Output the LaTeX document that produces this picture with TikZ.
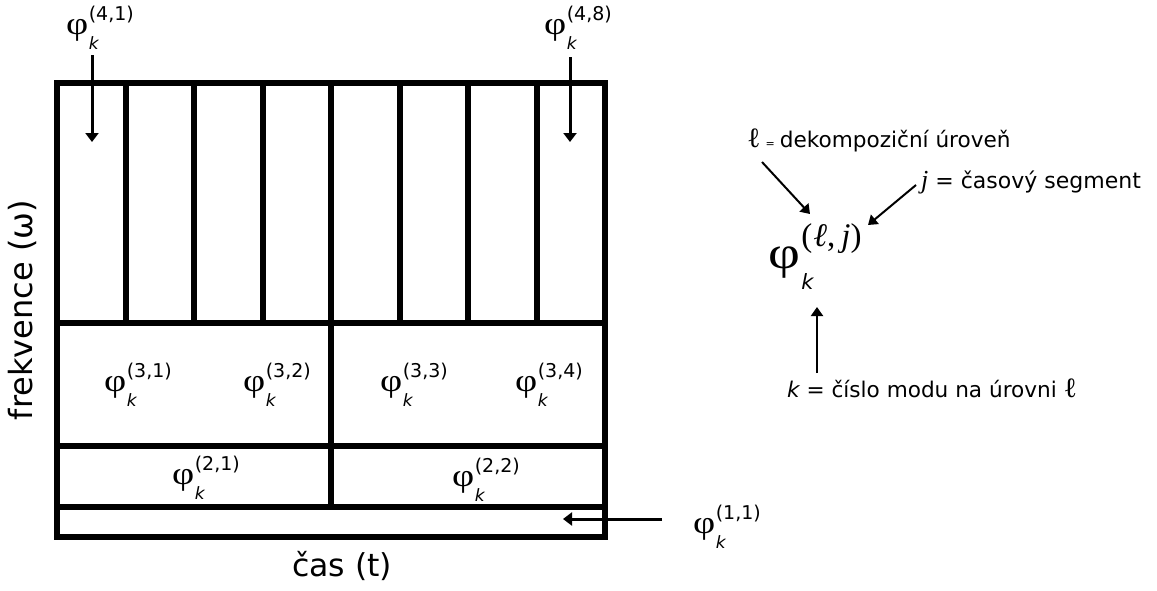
\documentclass[tikz,border=0pt]{standalone}
\usepackage{fontspec}
\usepackage{graphicx}
\setmainfont{DejaVu Sans}
\newfontfamily\phifont{Liberation Serif}
\usetikzlibrary{arrows.meta}
\newcommand{\fs}[1]{\fontsize{#1}{#1}\selectfont}
\newcommand{\phk}[1]{\scalebox{1.2}[1]{\phifont\fs{32}φ}\kern0.5pt\rlap{\raisebox{-15pt}{\fs{17}\itshape k}}\raisebox{14pt}{\fs{19}(#1)}}
\begin{document}
\begin{tikzpicture}[x=1pt,y=-1pt,
  grid/.style={line width=6pt},
  arr/.style={line width=3pt,-{Triangle[length=9pt,width=13pt]}},
  larr/.style={line width=2pt,-{Triangle[length=9pt,width=12pt]}},
  lab/.style={inner sep=0pt,anchor=center}]
\useasboundingbox (0,0) rectangle (1157,590);
% grid
\draw[grid] (57,83) rectangle (605,537);
\draw[grid] (57,323) -- (605,323);
\draw[grid] (57,446) -- (605,446);
\draw[grid] (57,507) -- (605,507);
\foreach \i in {1,...,7} \draw[grid] ({57+68.5*\i},83) -- ({57+68.5*\i},323);
\draw[grid] (331,323) -- (331,507);
% labels in grid
\node[lab] (p41) at (100,28) {\phk{4,1}};
\node[lab] (p48) at (578,28) {\phk{4,8}};
\node[lab] (p31) at (138,385) {\phk{3,1}};
\node[lab] (p32) at (277,385) {\phk{3,2}};
\node[lab] (p33) at (414,385) {\phk{3,3}};
\node[lab] (p34) at (549,385) {\phk{3,4}};
\node[lab] (p21) at (206,478) {\phk{2,1}};
\node[lab] (p22) at (486,480) {\phk{2,2}};
\node[lab] (p11) at (727,527) {\phk{1,1}};
% arrows into grid
\coordinate (s41) at (92,55);  \coordinate (e41) at (92,142);
\coordinate (s48) at (570,57); \coordinate (e48) at (570,142);
\coordinate (s11) at (662,519); \coordinate (e11) at (563,519);
\draw[arr] (s41) -- (e41);
\draw[arr] (s48) -- (e48);
\draw[arr] (s11) -- (e11);
% axis labels
\node[inner sep=0pt,anchor=base] (tax) at (342,576) {\fs{31.5}čas (t)};
\node[inner sep=0pt,anchor=base,rotate=90] (fax) at (32,310) {\fs{32}frekvence (ω)};
% legend
\node[lab] (big) at (815,257) {\scalebox{1.2}[1]{\phifont\fs{46}φ}\kern1pt\rlap{\raisebox{-21pt}{\fs{21}\itshape k}}\raisebox{22pt}{\phifont\fs{33}(\kern1pt{\itshape ℓ},\hspace{6pt}{\itshape j})}};
\node[inner sep=0pt,anchor=base west] (lvl) at (747,147) {{\phifont\fs{28}ℓ}\kern5pt{\fs{11}=}\kern5pt\fs{21.6}dekompoziční úroveň};
\node[inner sep=0pt,anchor=base west] (seg) at (921,188) {{\phifont\itshape\fs{26}j}\fs{22} = časový segment};
\node[inner sep=0pt,anchor=base west] (kno) at (787,397) {\fs{21.6}{\itshape k} = číslo modu na úrovni {\phifont\fs{28}ℓ}};
\coordinate (s1) at (762,162); \coordinate (e1) at (810,214);
\coordinate (s2) at (916,185); \coordinate (e2) at (868,225);
\coordinate (s3) at (817,373); \coordinate (e3) at (817,307);
\draw[larr] (s1) -- (e1);
\draw[larr] (s2) -- (e2);
\draw[larr] (s3) -- (e3);
\end{tikzpicture}
\end{document}
